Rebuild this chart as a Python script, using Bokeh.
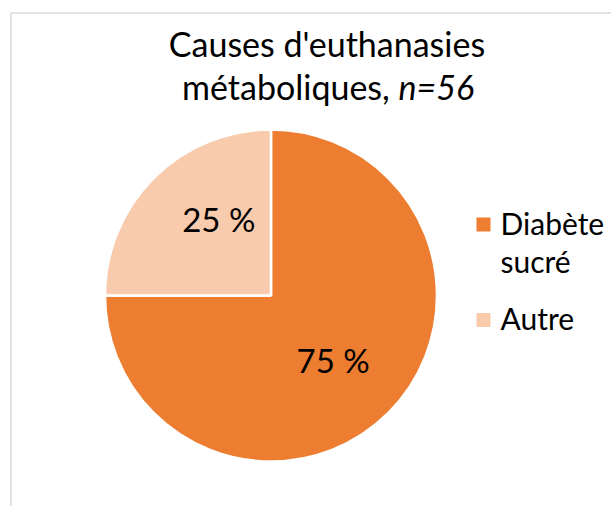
import math
from bokeh.plotting import figure
from bokeh.models import Range1d, ColumnDataSource
from bokeh.core.properties import value
from bokeh.embed import file_html
from bokeh.resources import INLINE

# ---- data ----
categories = ["Diabète sucré", "Autre"]
shares = [75, 25]
colors = ["#ED7D31", "#F8CBAD"]
title_main = "Causes d'euthanasies"
title_sub = "métaboliques, "
title_n = "n=56"

FONT = "Lato"
W, H = 611, 506

p = figure(width=W, height=H, output_backend="svg", toolbar_location=None,
           x_range=Range1d(0, W), y_range=Range1d(0, H), min_border=0)
p.axis.visible = False
p.grid.visible = False
p.outline_line_color = None
p.background_fill_color = "white"
p.border_fill_color = "white"

# chart-area border
p.quad(left=[10.5], right=[W + 50], top=[H - 12.5], bottom=[-50],
       fill_color=None, line_color="#D9D9D9", line_width=1.5)

# pie
cx, cy, R = 270.5, 211, 166
total = sum(shares)
starts, ends, mids = [], [], []
acc = 0
for s in shares:
    a0 = math.pi / 2 - 2 * math.pi * acc / total
    acc += s
    a1 = math.pi / 2 - 2 * math.pi * acc / total
    starts.append(a0)
    ends.append(a1)
    mids.append((a0 + a1) / 2)

src = ColumnDataSource(dict(start=starts, end=ends, color=colors))
p.wedge(x=cx, y=cy, radius=R, radius_units="screen", start_angle="start",
        end_angle="end", direction="clock", fill_color="color",
        line_color="white", line_width=2.5, source=src)

# data labels (placed along mid-angle, with a small best-fit nudge)
lab_r = 0.53 * R
nudge = [(0, -2), (10, 14)]
lx = [cx + lab_r * math.cos(m) + dx for m, (dx, dy) in zip(mids, nudge)]
ly = [cy + lab_r * math.sin(m) + dy for m, (dx, dy) in zip(mids, nudge)]
labels = [f"{s} %" for s in shares]
p.text(x=lx, y=ly, text=labels, text_font=value(FONT), text_font_size="33px",
       text_align="center", text_baseline="middle", text_color="#000000")

# title
tx = 326.5
p.text(x=[tx], y=[463], text=[title_main], text_font=value(FONT),
       text_font_size="34px", text_align="center", text_baseline="middle",
       text_color="#000000")
split_x = 398
p.text(x=[split_x], y=[420], text=[title_sub], text_font=value(FONT),
       text_font_size="34px", text_align="right", text_baseline="middle",
       text_color="#000000")
p.text(x=[split_x], y=[420], text=[title_n], text_font=value(FONT),
       text_font_size="34px", text_font_style="italic", text_align="left",
       text_baseline="middle", text_color="#000000")

# legend
leg_x, leg_y = 483, 282
line_h = 38
gap = 19.5
sq_x, sq_y, sq_c = [], [], []
tl_x, tl_y, tl_t = [], [], []
y = leg_y
for cat, col in zip(categories, colors):
    sq_x.append(leg_x)
    sq_y.append(y)
    sq_c.append(col)
    lines = cat.split(" ")
    for i, ln in enumerate(lines):
        tl_x.append(leg_x + 17)
        tl_y.append(y + 2 - line_h * i)
        tl_t.append(ln)
    y -= line_h * len(lines) + gap
p.rect(x=sq_x, y=sq_y, width=14, height=14, width_units="screen",
       height_units="screen", fill_color=sq_c, line_color=None)
p.text(x=tl_x, y=tl_y, text=tl_t, text_font=value(FONT), text_font_size="30px",
       text_align="left", text_baseline="middle", text_color="#000000")

open("out.html", "w").write(file_html(p, INLINE))
